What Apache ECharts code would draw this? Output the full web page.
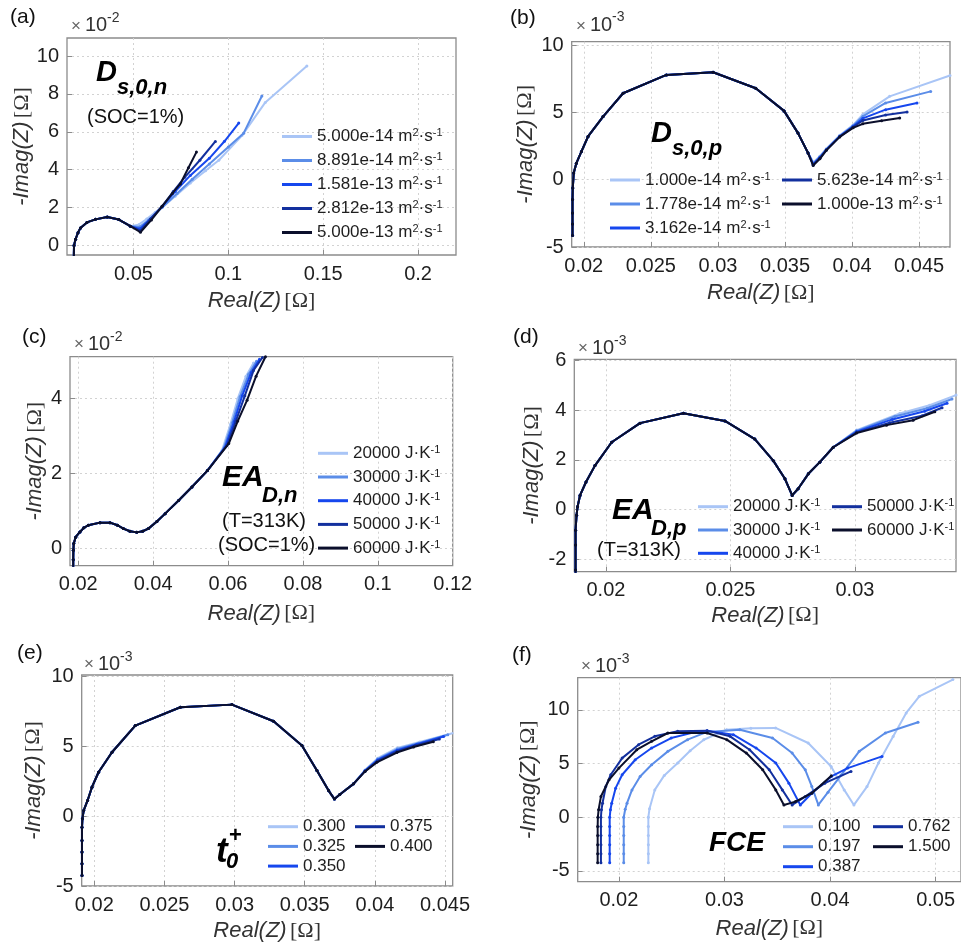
<!DOCTYPE html>
<html><head><meta charset="utf-8"><title>EIS sensitivity</title>
<script src="https://cdn.jsdelivr.net/npm/echarts@6.0.0/dist/echarts.min.js"></script>
<style>html,body{margin:0;padding:0;background:#fff;}#chart{width:961px;height:947px;}</style>
</head><body><div id="chart"></div>
<script>
const PALETTE = ['#a9c5f6', '#5b8de8', '#1647ee', '#13309e', '#0b0f2b'];

// ---------------- (a) Ds,0,n ----------------
const aNames = ['5.000e-14 m²·s⁻¹', '8.891e-14 m²·s⁻¹', '1.581e-13 m²·s⁻¹', '2.812e-13 m²·s⁻¹', '5.000e-13 m²·s⁻¹'];
const aXTicks = [0.05, 0.1, 0.15, 0.2];
const aYTicks = [0, 2, 4, 6, 8, 10];
const aBase = [[0.0186,-0.6],[0.0187,0],[0.0195,0.33],[0.0208,0.68],[0.0221,0.93],[0.0255,1.22],[0.03,1.38],[0.0362,1.5],[0.0423,1.37],[0.0484,1.02]];
const aTail1 = [[0.0528,1.1],[0.057,1.4],[0.0615,1.75],[0.065,2.0],[0.072,2.6],[0.08,3.3],[0.088,3.95],[0.095,4.5],[0.1072,5.8],[0.1195,7.55],[0.1414,9.47]];
const aTail2 = [[0.0532,0.98],[0.058,1.35],[0.0651,2.0],[0.073,2.75],[0.081,3.5],[0.09,4.3],[0.1,5.2],[0.1081,5.93],[0.1177,7.89]];
const aTail3 = [[0.0535,0.88],[0.059,1.4],[0.0651,2.05],[0.072,2.85],[0.08,3.7],[0.09,4.6],[0.098,5.5],[0.1055,6.46]];
const aTail4 = [[0.0537,0.78],[0.059,1.4],[0.0651,2.07],[0.071,2.85],[0.077,3.6],[0.085,4.5],[0.0932,5.49]];
const aTail5 = [[0.0537,0.7],[0.0595,1.35],[0.0651,2.07],[0.0705,2.75],[0.0747,3.25],[0.079,4.1],[0.0832,4.93]];

// ---------------- (b) Ds,0,p ----------------
const bNames = ['1.000e-14 m²·s⁻¹', '1.778e-14 m²·s⁻¹', '3.162e-14 m²·s⁻¹', '5.623e-14 m²·s⁻¹', '1.000e-13 m²·s⁻¹'];
const bXTicks = [0.02, 0.025, 0.03, 0.035, 0.04, 0.045];
const bYTicks = [-5, 0, 5, 10];
const bBase = [[0.01916,-4.15],[0.01916,-3.3],[0.01916,-2.47],[0.01916,-1.48],[0.01918,-0.62],[0.01925,0.49],[0.01945,1.23],[0.01983,2.1],[0.02032,3.21],[0.02144,4.69],[0.02293,6.42],[0.02616,7.78],[0.02964,7.98],[0.03282,6.79],[0.03493,5.11],[0.03597,3.46],[0.03672,1.98]];
const bTail1 = [[0.03712,1.3],[0.0376,1.75],[0.03808,2.3],[0.03908,3.3],[0.04007,4.05],[0.0408,4.85],[0.0428,6.19],[0.0473,7.74]];
const bTail2 = [[0.03711,1.2],[0.0376,1.7],[0.03808,2.25],[0.03908,3.25],[0.04007,4.0],[0.0408,4.7],[0.0425,5.7],[0.04586,6.56]];
const bTail3 = [[0.0371,1.15],[0.0376,1.65],[0.03808,2.22],[0.03908,3.22],[0.04007,3.95],[0.0408,4.55],[0.0425,5.2],[0.04484,5.69]];
const bTail4 = [[0.0371,1.1],[0.0376,1.6],[0.03808,2.2],[0.03908,3.2],[0.04007,3.9],[0.0408,4.4],[0.0425,4.8],[0.0441,5.02]];
const bTail5 = [[0.0371,1.05],[0.0376,1.55],[0.03808,2.18],[0.03908,3.18],[0.04007,3.85],[0.0408,4.15],[0.0422,4.38],[0.04355,4.58]];

// ---------------- (c) EA D,n ----------------
const cNames = ['20000 J·K⁻¹', '30000 J·K⁻¹', '40000 J·K⁻¹', '50000 J·K⁻¹', '60000 J·K⁻¹'];
const cXTicks = [0.02, 0.04, 0.06, 0.08, 0.1, 0.12];
const cYTicks = [0, 2, 4];
const cBase = [[0.01866,-0.6],[0.01866,-0.3],[0.0187,-0.05],[0.0188,0.13],[0.0193,0.3],[0.02045,0.44],[0.0215,0.55],[0.02268,0.62],[0.02581,0.69],[0.02849,0.69],[0.0305,0.62],[0.03205,0.53],[0.0338,0.46],[0.03563,0.43],[0.0372,0.46],[0.03874,0.53],[0.041,0.72],[0.04321,0.93],[0.0468,1.28],[0.05036,1.64],[0.0545,2.08]];
const cTail1 = [[0.0584,2.62],[0.0606,3.3],[0.0626,4.0],[0.0648,4.6],[0.0668,4.95]];
const cTail2 = [[0.0588,2.66],[0.0611,3.35],[0.0632,4.05],[0.0655,4.65],[0.0676,5.0]];
const cTail3 = [[0.0592,2.7],[0.0616,3.38],[0.0638,4.08],[0.0662,4.7],[0.0684,5.05]];
const cTail4 = [[0.0597,2.75],[0.0621,3.4],[0.0645,4.08],[0.0668,4.75],[0.0692,5.1]];
const cTail5 = [[0.0602,2.8],[0.0626,3.4],[0.0651,3.96],[0.0675,4.6],[0.07,5.12]];

// ---------------- (d) EA D,p ----------------
const dNames = cNames;
const dXTicks = [0.02, 0.025, 0.03];
const dYTicks = [-2, 0, 2, 4, 6];
const dBase = [[0.01878,-2.7],[0.01878,-2.43],[0.01878,-1.43],[0.01878,-0.83],[0.01882,-0.23],[0.01886,0.11],[0.01896,0.57],[0.0192,1.11],[0.01956,1.77],[0.02023,2.71],[0.02137,3.48],[0.02311,3.88],[0.02478,3.57],[0.02598,2.84],[0.02672,1.97],[0.02719,1.24],[0.02748,0.57],[0.02772,0.84],[0.02813,1.44],[0.02859,1.91],[0.02913,2.51]];
const dTail1 = [[0.03007,3.2],[0.0318,3.87],[0.033,4.2],[0.03406,4.61]];
const dTail2 = [[0.03007,3.17],[0.0316,3.75],[0.0329,4.08],[0.0339,4.45]];
const dTail3 = [[0.03007,3.14],[0.0315,3.63],[0.0328,3.96],[0.0337,4.28]];
const dTail4 = [[0.03007,3.11],[0.0314,3.5],[0.0327,3.78],[0.0335,4.1]];
const dTail5 = [[0.03007,3.08],[0.03127,3.4],[0.03234,3.6],[0.03321,3.94]];

// ---------------- (e) t0+ ----------------
const eNames = ['0.300', '0.325', '0.350', '0.375', '0.400'];
const eXTicks = [0.02, 0.025, 0.03, 0.035, 0.04, 0.045];
const eYTicks = [-5, 0, 5, 10];
const eBase = [[0.01912,-4.24],[0.01912,-3.4],[0.01912,-2.57],[0.01912,-1.74],[0.01912,-0.79],[0.01915,-0.19],[0.01924,0.4],[0.01952,1.12],[0.01983,2.07],[0.0203,3.14],[0.02126,4.57],[0.02292,6.48],[0.02613,7.79],[0.02981,7.98],[0.03278,6.79],[0.0348,5.05],[0.03587,3.26],[0.0367,1.83],[0.03712,1.22],[0.0375,1.55],[0.03848,2.31]];
const eTail1 = [[0.0393,3.3],[0.0402,4.15],[0.0416,4.88],[0.0432,5.3],[0.0456,5.95]];
const eTail2 = [[0.0393,3.27],[0.0402,4.08],[0.0416,4.8],[0.0431,5.22],[0.0452,5.82]];
const eTail3 = [[0.0393,3.24],[0.0402,4.02],[0.0416,4.72],[0.043,5.15],[0.0449,5.7]];
const eTail4 = [[0.0393,3.22],[0.0402,3.95],[0.0416,4.65],[0.0429,5.06],[0.0446,5.52]];
const eTail5 = [[0.0393,3.2],[0.04014,3.85],[0.04157,4.55],[0.04276,4.95],[0.04417,5.32]];

// ---------------- (f) FCE ----------------
const fNames = ['0.100', '0.197', '0.387', '0.762', '1.500'];
const fXTicks = [0.02, 0.03, 0.04, 0.05];
const fYTicks = [-5, 0, 5, 10];
const f1 = [[0.02279,-4.24],[0.02279,-3.4],[0.02279,-2.55],[0.02279,-1.7],[0.02279,-0.85],[0.02279,0],[0.0229,0.8],[0.0234,2.55],[0.0243,3.9],[0.02557,5.05],[0.02675,6.2],[0.02804,7.22],[0.0302,8.16],[0.0325,8.3],[0.03484,8.32],[0.03793,6.92],[0.0401,4.73],[0.04134,2.55],[0.04226,1.15],[0.0435,2.86],[0.04458,5.05],[0.04597,7.53],[0.04721,9.72],[0.04845,11.27],[0.05163,12.83]];
const f2 = [[0.02046,-4.24],[0.02046,-3.4],[0.02046,-2.55],[0.02046,-1.7],[0.02046,-0.85],[0.02046,0],[0.0206,0.75],[0.02077,1.31],[0.02124,2.55],[0.02201,3.8],[0.0231,4.89],[0.02464,6.14],[0.0265,7.23],[0.02836,7.95],[0.03146,8.16],[0.03455,7.38],[0.03641,5.98],[0.03765,4.42],[0.03827,2.87],[0.03889,1.15],[0.03981,2.34],[0.04105,3.93],[0.04276,6.14],[0.04523,7.85],[0.04833,8.85]];
const f3 = [[0.01913,-4.24],[0.01913,-3.4],[0.01913,-2.55],[0.01913,-1.7],[0.01913,-0.85],[0.01913,0],[0.0192,0.7],[0.01932,1.31],[0.01969,2.71],[0.02031,3.96],[0.02155,5.36],[0.0231,6.45],[0.02495,7.38],[0.02712,7.91],[0.02836,8.07],[0.03084,7.69],[0.033,6.45],[0.03486,5.05],[0.0361,3.18],[0.03718,1.15],[0.03827,2.24],[0.04012,3.8],[0.04167,4.58],[0.04492,5.67]];
const f4 = [[0.0183,-4.24],[0.0183,-3.4],[0.0183,-2.55],[0.0183,-1.7],[0.0183,-0.85],[0.0183,0],[0.01835,0.7],[0.01845,1.31],[0.01876,2.87],[0.01923,3.96],[0.02031,5.51],[0.02186,6.76],[0.0234,7.54],[0.02557,8.01],[0.02836,8.07],[0.03053,7.54],[0.03238,6.29],[0.03424,4.42],[0.03548,2.55],[0.03641,1.15],[0.03765,1.93],[0.0395,3.18],[0.04198,4.27]];
const f5 = [[0.01799,-4.24],[0.01799,-3.4],[0.01799,-2.55],[0.01799,-1.7],[0.01799,-0.85],[0.01801,0],[0.01808,0.7],[0.0183,1.93],[0.01907,3.49],[0.02,4.58],[0.0217,6.29],[0.0231,7.07],[0.02464,7.85],[0.02836,7.85],[0.03022,7.23],[0.03207,5.98],[0.03362,4.42],[0.03486,2.55],[0.03563,1.15],[0.03672,1.46],[0.03827,2.24],[0.04012,3.86]];

// ---------------- chart construction ----------------
const FONT = '"Liberation Sans", Arial, Helvetica, sans-serif';
const TXT = '#1e1e1e';
const BORDER = '#8c8c8c';
function fmt(v) { return String(parseFloat(Number(v).toPrecision(6))); }
function supFmt(name) { return name.replace('m²·s⁻¹', 'm{s|2}·s{s|-1}').replace('J·K⁻¹', 'J·K{s|-1}'); }

const grids = [], xAxes = [], yAxes = [], series = [], legends = [];

function addPanel(p) {
  const i = grids.length;
  grids.push({ left: p.grid[0], top: p.grid[1], width: p.grid[2], height: p.grid[3], show: true,
    borderColor: BORDER, borderWidth: 1.3, backgroundColor: '#fff' });
  const splitLine = { show: true, lineStyle: { color: '#d2d2d2', type: [2, 3], width: 1 } };
  const nameRich = { i: { fontStyle: 'italic', fontSize: 22, fontFamily: FONT, color: '#333' },
                     n: { fontSize: 22, fontFamily: '"Liberation Serif", "DejaVu Serif", serif', color: '#333' } };
  xAxes.push({ type: 'value', gridIndex: i, min: p.x[0], max: p.x[1],
    axisLine: { show: false, onZero: false },
    axisTick: { show: true, inside: true, length: 5, customValues: p.xt, lineStyle: { color: BORDER } },
    axisLabel: { customValues: p.xt, formatter: fmt, fontSize: 20, color: TXT, fontFamily: FONT, margin: 9 },
    splitLine: splitLine,
    name: '{i|Real(Z)} {n|[Ω]}', nameLocation: 'middle', nameGap: p.xg,
    nameTextStyle: { rich: nameRich } });
  yAxes.push({ type: 'value', gridIndex: i, min: p.y[0], max: p.y[1],
    axisLine: { show: false, onZero: false },
    axisTick: { show: true, inside: true, length: 5, customValues: p.yt, lineStyle: { color: BORDER } },
    axisLabel: { customValues: p.yt, formatter: fmt, fontSize: 20, color: TXT, fontFamily: FONT, margin: 8 },
    splitLine: splitLine,
    name: '{i|-Imag(Z)} {n|[Ω]}', nameLocation: 'middle', nameGap: p.yg, nameRotate: 90,
    nameTextStyle: { rich: nameRich } });
  p.data.forEach((d, k) => {
    series.push({ type: 'line', name: p.names[k], xAxisIndex: i, yAxisIndex: i, data: d,
      symbol: 'circle', symbolSize: 3, showSymbol: true, animation: false, clip: true,
      color: PALETTE[k], lineStyle: { width: 2, color: PALETTE[k] }, itemStyle: { color: PALETTE[k] },
      z: 2 + k });
  });
  p.legends.forEach(L => {
    legends.push({ orient: 'vertical', left: L.left, top: L.top, itemGap: L.gap, padding: 0,
      itemWidth: 30, itemHeight: 3, icon: 'rect', selectedMode: false,
      data: L.items.map(k => p.names[k]), formatter: supFmt,
      textStyle: { fontSize: L.fs || 17, fontFamily: FONT, color: TXT, lineHeight: 18,
        rich: { s: { fontSize: 11, lineHeight: 11, verticalAlign: 'top', fontFamily: FONT, color: TXT } } } });
  });
}

addPanel({ grid: [67, 38, 389, 217], x: [0.015, 0.22], y: [-0.5, 10.95], xt: aXTicks, yt: aYTicks, xg: 35, yg: 28,
  names: aNames, data: [aBase.concat(aTail1), aBase.concat(aTail2), aBase.concat(aTail3), aBase.concat(aTail4), aBase.concat(aTail5)],
  legends: [{ left: 282, top: 127.5, gap: 6, items: [0, 1, 2, 3, 4] }] });
addPanel({ grid: [571.7, 41.7, 378.3, 205.3], x: [0.0191, 0.0473], y: [-5, 10.25], xt: bXTicks, yt: bYTicks, xg: 35, yg: 35,
  names: bNames, data: [bBase.concat(bTail1), bBase.concat(bTail2), bBase.concat(bTail3), bBase.concat(bTail4), bBase.concat(bTail5)],
  legends: [{ left: 610, top: 171, gap: 6, items: [0, 1, 2] }, { left: 782, top: 171, gap: 6, items: [3, 4] }] });
addPanel({ grid: [70, 356.7, 382.7, 209], x: [0.0178, 0.12], y: [-0.46, 5.12], xt: cXTicks, yt: cYTicks, xg: 37, yg: 24,
  names: cNames, data: [cBase.concat(cTail1), cBase.concat(cTail2), cBase.concat(cTail3), cBase.concat(cTail4), cBase.concat(cTail5)],
  legends: [{ left: 318, top: 444.3, gap: 5.7, items: [0, 1, 2, 3, 4] }] });
addPanel({ grid: [574.3, 359.3, 381.7, 212.4], x: [0.01873, 0.03406], y: [-2.5, 6.05], xt: dXTicks, yt: dYTicks, xg: 33, yg: 31,
  names: dNames, data: [dBase.concat(dTail1), dBase.concat(dTail2), dBase.concat(dTail3), dBase.concat(dTail4), dBase.concat(dTail5)],
  legends: [{ left: 698, top: 497.7, gap: 5.3, items: [0, 1, 2] }, { left: 832, top: 497.7, gap: 5.3, items: [3, 4] }] });
addPanel({ grid: [81.7, 675, 371, 211], x: [0.0191, 0.04555], y: [-5, 10.1], xt: eXTicks, yt: eYTicks, xg: 34, yg: 37,
  names: eNames, data: [eBase.concat(eTail1), eBase.concat(eTail2), eBase.concat(eTail3), eBase.concat(eTail4), eBase.concat(eTail5)],
  legends: [{ left: 268, top: 817.7, gap: 1.7, items: [0, 1, 2] }, { left: 355, top: 817.7, gap: 1.7, items: [3, 4] }] });
addPanel({ grid: [577.7, 677.7, 391, 204], x: [0.0161, 0.0524], y: [-6, 13], xt: fXTicks, yt: fYTicks, xg: 36, yg: 38,
  names: fNames, data: [f1, f2, f3, f4, f5],
  legends: [{ left: 783, top: 817.7, gap: 2, items: [0, 1, 2] }, { left: 873, top: 817.7, gap: 2, items: [3, 4] }] });

// ---------------- text annotations ----------------
function T(x, y, text, size, extra) {
  return { type: 'text', x: x, y: y, silent: true, z: 100,
    style: Object.assign({ text: text, fontSize: size, fontFamily: FONT, fill: '#111', verticalAlign: 'middle', align: 'left' }, extra || {}) };
}
const BI = { fontWeight: 'bold', fontStyle: 'italic', fill: '#000' };
const G = { fill: '#333' };
const GX = { fill: '#666' };
const texts = [
  // panel letters
  T(10, 17.5, '(a)', 21), T(510, 18, '(b)', 21), T(22, 337, '(c)', 21),
  T(513, 337, '(d)', 21), T(17, 653, '(e)', 21), T(512, 655, '(f)', 21),
  // exponent labels
  T(71, 26, '×', 17, GX), T(85, 25.5, '10', 20, G), T(107, 18.5, '-2', 14, G),
  T(576, 26, '×', 17, GX), T(590, 25, '10', 20, G), T(612, 17.5, '-3', 14, G),
  T(74, 344.5, '×', 17, GX), T(88, 344, '10', 20, G), T(110, 337, '-2', 14, G),
  T(578, 348.5, '×', 17, GX), T(592, 348, '10', 20, G), T(614, 341, '-3', 14, G),
  T(84, 664.5, '×', 17, GX), T(98, 664, '10', 20, G), T(120, 657.5, '-3', 14, G),
  T(581, 666.5, '×', 17, GX), T(595, 666, '10', 20, G), T(617, 659, '-3', 14, G),
  // (a)
  T(96, 72.5, 'D', 29, BI), T(117, 87.5, 's,0,n', 22, BI), T(87, 117.5, '(SOC=1%)', 20),
  // (b)
  T(651, 134, 'D', 29, BI), T(672, 149, 's,0,p', 22, BI),
  // (c)
  T(222, 478, 'EA', 30, BI), T(262, 495.5, 'D,n', 22, BI),
  T(222, 521.5, '(T=313K)', 20), T(218, 545, '(SOC=1%)', 20),
  // (d)
  T(612, 511, 'EA', 30, BI), T(651, 528.5, 'D,p', 22, BI), T(597, 550, '(T=313K)', 20),
  // (e)
  T(216, 852, 't', 35, BI), T(229, 836, '+', 22, { fontWeight: 'bold', fill: '#000' }), T(226, 862, '0', 22, BI),
  // (f)
  T(709, 843, 'FCE', 28, BI)
];

const chart = echarts.init(document.getElementById('chart'), null, { renderer: 'canvas' });
chart.setOption({
  animation: false,
  backgroundColor: '#fff',
  grid: grids, xAxis: xAxes, yAxis: yAxes, series: series, legend: legends,
  graphic: { elements: texts }
});
</script></body></html>
